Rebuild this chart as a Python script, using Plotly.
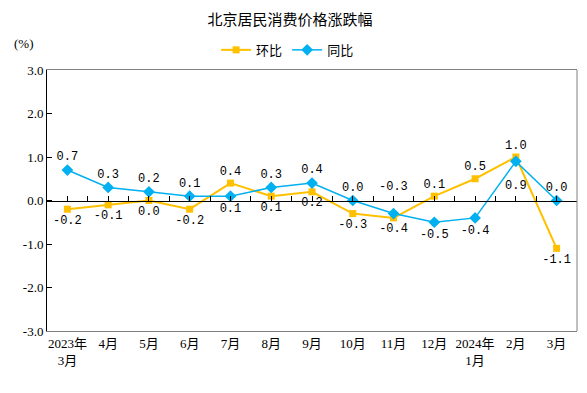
import plotly.graph_objects as go

categories = ["2023年<br>3月", "4月", "5月", "6月", "7月", "8月", "9月", "10月",
              "11月", "12月", "2024年<br>1月", "2月", "3月"]
mom = [-0.2, -0.1, 0.0, -0.2, 0.4, 0.1, 0.2, -0.3, -0.4, 0.1, 0.5, 1.0, -1.1]
yoy = [0.7, 0.3, 0.2, 0.1, 0.1, 0.3, 0.4, 0.0, -0.3, -0.5, -0.4, 0.9, 0.0]
mom_pos = ["bottom center", "bottom center", "bottom center", "bottom center", "top center",
           "bottom center", "bottom center", "bottom center", "bottom center", "top center",
           "top center", "top center", "bottom center"]
yoy_pos = ["top center", "top center", "top center", "top center", "bottom center",
           "top center", "top center", "top center", "top center", "bottom center",
           "bottom center", "bottom center", "top center"]
# yoy labels that sit farther from their points (index -> vertical shift in px)
yoy_far_labels = {8: 27, 11: -25}
y_ticks = [3, 2, 1, 0, -1, -2, -3]
y_ticktext = ["3.0", "2.0", "1.0", "0.0", "-1.0", "-2.0", "-3.0"]

YELLOW = "#FFC000"
BLUE = "#00B0F0"
CJK = "Noto Sans CJK SC"
LABEL_FONT = dict(family="Liberation Mono", size=12, color="#000000")

xs = list(range(len(categories)))
yoy_text = ["" if i in yoy_far_labels else f"{v:.1f}" for i, v in enumerate(yoy)]

fig = go.Figure()
fig.add_trace(go.Scatter(
    x=xs, y=mom, name="环比", mode="lines+markers+text",
    line=dict(color=YELLOW, width=2),
    marker=dict(symbol="square", size=7, color=YELLOW),
    text=[f"{v:.1f}" for v in mom], textposition=mom_pos, textfont=LABEL_FONT,
    cliponaxis=False,
))
fig.add_trace(go.Scatter(
    x=xs, y=yoy, name="同比", mode="lines+markers+text",
    line=dict(color=BLUE, width=1.5),
    marker=dict(symbol="diamond", size=9, color=BLUE),
    text=yoy_text, textposition=yoy_pos, textfont=LABEL_FONT,
    cliponaxis=False,
))
# helper trace so the zero-line axis is drawn
fig.add_trace(go.Scatter(x=[None], y=[None], xaxis="x2", showlegend=False, hoverinfo="skip"))

annotations = [dict(text="(%)", xref="paper", yref="paper", x=-0.043, y=1.10,
                    xanchor="center", yanchor="middle", showarrow=False,
                    font=dict(family="Liberation Serif", size=13, color="#000000"))]
for i, shift in yoy_far_labels.items():
    annotations.append(dict(text=f"{yoy[i]:.1f}", x=xs[i], y=yoy[i], xref="x", yref="y",
                            yshift=shift, showarrow=False, xanchor="center",
                            yanchor="middle", font=LABEL_FONT))

fig.update_layout(
    width=587, height=393,
    margin=dict(l=47, r=10, t=70, b=62, autoexpand=False),
    paper_bgcolor="white", plot_bgcolor="white",
    title=dict(text="北京居民消费价格涨跌幅", x=0.494, xanchor="center",
               y=0.949, yanchor="middle",
               font=dict(family=CJK, size=15, color="#000000")),
    legend=dict(orientation="h", x=0.454, xanchor="center", y=1.077, yanchor="middle",
                font=dict(family=CJK, size=13, color="#000000"),
                itemwidth=30, bgcolor="rgba(0,0,0,0)"),
    showlegend=True,
    xaxis=dict(range=[-0.5, len(categories) - 0.5], tickmode="array", tickvals=xs,
               ticktext=categories, ticks="", showgrid=False, zeroline=False,
               showline=True, linecolor="#808080", linewidth=1, mirror=True,
               automargin=False,
               tickfont=dict(family="Liberation Serif, " + CJK, size=13, color="#000000"),
               fixedrange=True),
    xaxis2=dict(overlaying="x", anchor="free", position=0.5, side="bottom",
                range=[-0.5, len(categories) - 0.5], tickmode="linear", tick0=-0.5, dtick=0.5,
                ticks="inside", ticklen=5, tickcolor="#000000", tickwidth=1,
                showticklabels=False, showgrid=False, zeroline=False, automargin=False,
                showline=True, linecolor="#000000", linewidth=1),
    yaxis=dict(range=[-3, 3], tickmode="array", tickvals=y_ticks, ticktext=y_ticktext,
               ticks="inside", ticklen=5, tickcolor="#000000", automargin=False,
               showgrid=False, zeroline=False, showline=True, linecolor="#000000",
               linewidth=1,
               tickfont=dict(family="Liberation Serif", size=13, color="#000000")),
    shapes=[dict(type="line", xref="paper", yref="paper", x0=1, x1=1, y0=0, y1=1,
                 line=dict(color="#808080", width=1))],
    annotations=annotations,
)

fig.write_html("out.html", config={"displayModeBar": False},
               post_script="document.body.style.margin='0';document.body.style.overflow='hidden';")
